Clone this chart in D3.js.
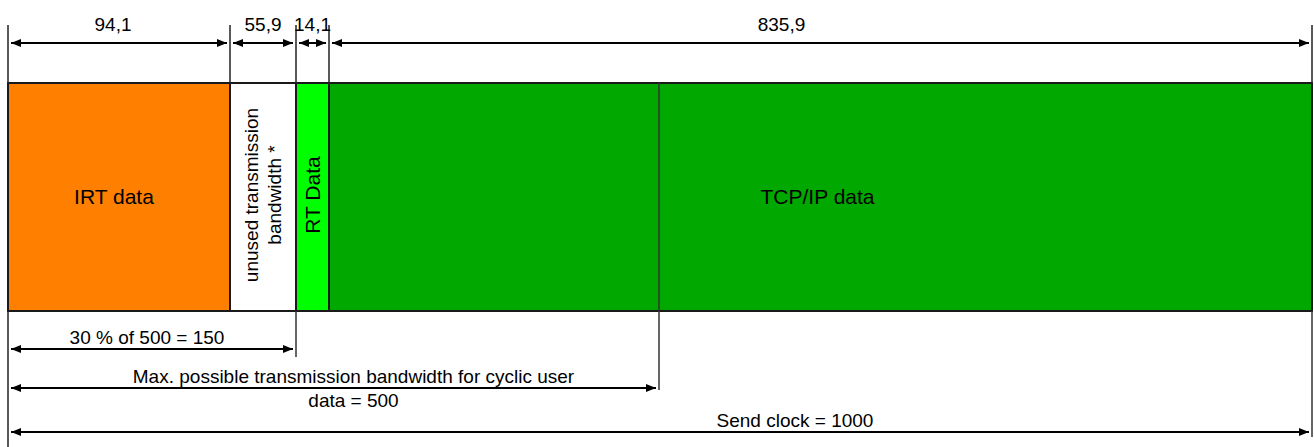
<!DOCTYPE html>
<html>
<head>
<meta charset="utf-8">
<script src="https://cdn.jsdelivr.net/npm/d3@7/dist/d3.min.js"></script>
<style>
  body { margin: 0; background: #fff; }
  svg text { font-family: "Liberation Sans", Arial, sans-serif; fill: #000; }
</style>
</head>
<body>
<svg id="chart" width="1314" height="447"></svg>
<script>
// data
var segmentNames = ["IRT data", "unused transmission\nbandwidth *", "RT Data", "TCP/IP data"];
var segmentValues = [94.1, 55.9, 14.1, 835.9];
var segmentLabels = ["94,1", "55,9", "14,1", "835,9"];
var cyclicLimit = 500;
var spanValues = [150, 500, 1000];
var spanLabels = ["30 % of 500 = 150", "Max. possible transmission bandwidth for cyclic user\ndata = 500", "Send clock = 1000"];

// styles / layout
var segmentColors = ["#ff8000", "#ffffff", "#00ff00", "#00a800"];
var segmentRotated = [false, true, true, false];
var segmentFont = [21, 19, 21, 21];
var segmentTextDx = [-5, 0, 0, -3];
var topLabelDx = [-6, 0, 0, -39];
var spanTextDx = [-5, 20, 135];
var spanY = [349, 388, 432];
var spanExtBottom = [357, 390, 437];

var svg = d3.select("#chart");

// cumulative boundaries
var bounds = [0];
segmentValues.forEach(function(v) { bounds.push(+(bounds[bounds.length - 1] + v).toFixed(1)); });

// the drawing is not to scale, so use a piecewise scale through the breakpoints
var domain = bounds.concat([cyclicLimit]).sort(function(a, b) { return a - b; });
var x = d3.scaleLinear()
    .domain(domain)
    .range([8, 230, 296, 329, 659, 1312]);

var barTop = 83, barBottom = 311, barMid = (barTop + barBottom) / 2;

// ****************** bar segments ***************************
var seg = svg.selectAll("g.seg")
    .data(segmentValues.map(function(v, i) {
      return { name: segmentNames[i], v: v, x0: bounds[i], x1: bounds[i + 1], i: i };
    }))
    .enter().append("g")
    .attr("class", "seg");

seg.append("rect")
    .attr("x", function(d) { return x(d.x0); })
    .attr("y", barTop)
    .attr("width", function(d) { return x(d.x1) - x(d.x0); })
    .attr("height", barBottom - barTop)
    .style("fill", function(d) { return segmentColors[d.i]; })
    .style("stroke", "#1a1a1a")
    .style("stroke-width", 2);

seg.each(function(d) {
  var cx = (x(d.x0) + x(d.x1)) / 2 + segmentTextDx[d.i];
  var lines = d.name.split("\n");
  var fs = segmentFont[d.i];
  var t = d3.select(this).append("text")
      .attr("text-anchor", "middle")
      .style("font-size", fs + "px");
  if (segmentRotated[d.i]) {
    t.attr("transform", "translate(" + cx + "," + (barMid - 2) + ") rotate(-90)");
  } else {
    t.attr("transform", "translate(" + cx + "," + barMid + ")");
  }
  var lh = fs * 1.2;
  lines.forEach(function(line, k) {
    t.append("tspan")
        .attr("x", 0)
        .attr("y", (k - (lines.length - 1) / 2) * lh + fs * 0.35)
        .text(line);
  });
});

// line at the cyclic limit inside the bar
svg.append("line")
    .attr("x1", x(cyclicLimit)).attr("x2", x(cyclicLimit))
    .attr("y1", barTop).attr("y2", spanExtBottom[1])
    .style("stroke", "#333").style("stroke-width", 1.5);

// ****************** dimension lines ***************************
function arrow(xa, xb, y) {
  var g = svg.append("g");
  var gap = 3, len = 10, hw = 4;
  g.append("line")
      .attr("x1", xa + gap).attr("x2", xb - gap)
      .attr("y1", y).attr("y2", y)
      .style("stroke", "#000").style("stroke-width", 2);
  g.append("path")
      .attr("d", "M" + (xa + gap) + "," + y + "l" + len + "," + (-hw) + "v" + (2 * hw) + "z")
      .style("fill", "#000");
  g.append("path")
      .attr("d", "M" + (xb - gap) + "," + y + "l" + (-len) + "," + (-hw) + "v" + (2 * hw) + "z")
      .style("fill", "#000");
}

// extension lines above the bar
bounds.forEach(function(b) {
  svg.append("line")
      .attr("x1", x(b)).attr("x2", x(b))
      .attr("y1", 25).attr("y2", barTop)
      .style("stroke", "#222").style("stroke-width", 1.5);
});

segmentValues.forEach(function(v, i) {
  arrow(x(bounds[i]), x(bounds[i + 1]), 43);
  svg.append("text")
      .attr("x", (x(bounds[i]) + x(bounds[i + 1])) / 2 + topLabelDx[i])
      .attr("y", 31)
      .attr("text-anchor", "middle")
      .style("font-size", "19px")
      .text(segmentLabels[i]);
});

// extension lines below the bar
svg.append("line")
    .attr("x1", x(0)).attr("x2", x(0))
    .attr("y1", barBottom).attr("y2", 447)
    .style("stroke", "#222").style("stroke-width", 1.5);

spanValues.forEach(function(v, i) {
  if (v !== cyclicLimit) {
    svg.append("line")
        .attr("x1", x(v)).attr("x2", x(v))
        .attr("y1", barBottom).attr("y2", spanExtBottom[i])
        .style("stroke", "#333").style("stroke-width", 1.5);
  }
  arrow(x(0), x(v), spanY[i]);
  var lines = spanLabels[i].split("\n");
  var t = svg.append("text")
      .attr("text-anchor", "middle")
      .style("font-size", "19px");
  lines.forEach(function(line, k) {
    t.append("tspan")
        .attr("x", (x(0) + x(v)) / 2 + spanTextDx[i])
        .attr("y", spanY[i] - 5 + k * 24)
        .text(line);
  });
});
</script>
</body>
</html>
